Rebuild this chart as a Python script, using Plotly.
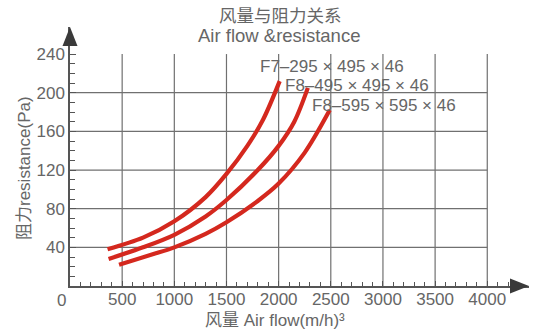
import plotly.graph_objects as go

# ---------------- data ----------------
series_names = ["F7–295 × 495 × 46", "F8–495 × 495 × 46", "F8–595 × 595 × 46"]

f7_x = [360, 700, 1000, 1300, 1500, 1700, 1850, 2010]
f7_y = [38, 50, 67, 92, 116, 145, 172, 212]

f8a_x = [370, 700, 1000, 1300, 1500, 1800, 2000, 2150, 2280]
f8a_y = [28, 40, 53, 72, 89, 120, 145, 170, 205]

f8b_x = [470, 800, 1000, 1300, 1500, 1800, 2000, 2250, 2490]
f8b_y = [22, 33, 40, 54, 66, 88, 106, 138, 182]

x_ticks = [500, 1000, 1500, 2000, 2500, 3000, 3500, 4000]
y_ticks = [40, 80, 120, 160, 200, 240]
x_minor = [v for v in range(100, 4201, 100) if v % 500 != 0]
y_minor = [v for v in range(10, 241, 10) if v % 40 != 0]

label_pos = [(1800, 227), (2045, 207), (2300, 187)]

# ---------------- layout geometry ----------------
W, H = 538, 334
L, R, T, B = 70, 9, 27, 48
PW, PH = W - L - R, H - T - B
X_MAX, Y_MAX = 4400, 268

def px(xp):
    return (xp - L) / PW

def py(yp):
    return (H - B - yp) / PH

RED = "#d4281e"
GRID = "#707070"
AXIS = "#555555"
TXT = "#666666"
FONT = "Liberation Sans, Arial, Noto Sans CJK SC, sans-serif"

fig = go.Figure()
for xs, ys, name in [(f7_x, f7_y, series_names[0]),
                     (f8a_x, f8a_y, series_names[1]),
                     (f8b_x, f8b_y, series_names[2])]:
    fig.add_trace(go.Scatter(x=xs, y=ys, mode="lines", name=name,
                             line=dict(color=RED, width=4.2, shape="spline", smoothing=0.9),
                             hoverinfo="skip"))

shapes = []
for xv in x_ticks:
    shapes.append(dict(type="line", xref="x", yref="y", x0=xv, x1=xv, y0=0, y1=240,
                       line=dict(color=GRID, width=1.2), layer="below"))
for yv in y_ticks[:-1]:
    shapes.append(dict(type="line", xref="x", yref="y", x0=0, x1=4000, y0=yv, y1=yv,
                       line=dict(color=GRID, width=1.2), layer="below"))

ah_len, ah_half = 19, 7.5
shapes.append(dict(type="path", xref="paper", yref="paper",
                   path=f"M 1 0 L {1 - ah_len / PW} {ah_half / PH} L {1 - ah_len / PW} {-ah_half / PH} Z",
                   fillcolor="#3a3a3a", line=dict(width=0)))
shapes.append(dict(type="path", xref="paper", yref="paper",
                   path=f"M 0 1 L {ah_half / PW} {1 - ah_len / PH} L {-ah_half / PW} {1 - ah_len / PH} Z",
                   fillcolor="#3a3a3a", line=dict(width=0)))

annotations = []
for (lx, ly), name in zip(label_pos, series_names):
    annotations.append(dict(x=lx, y=ly, xref="x", yref="y", text=name, showarrow=False,
                            xanchor="left", yanchor="middle",
                            font=dict(family=FONT, size=17, color=TXT)))
annotations += [
    dict(x=px(280), y=py(16), xref="paper", yref="paper", text="风量与阻力关系",
         showarrow=False, xanchor="center", yanchor="middle",
         font=dict(family=FONT, size=17.5, color=TXT)),
    dict(x=px(279), y=py(35), xref="paper", yref="paper", text="Air flow &resistance",
         showarrow=False, xanchor="center", yanchor="middle",
         font=dict(family=FONT, size=18.5, color=TXT)),
    dict(x=px(275), y=py(320), xref="paper", yref="paper", text="风量 Air flow(m/h)³",
         showarrow=False, xanchor="center", yanchor="middle",
         font=dict(family=FONT, size=17, color=TXT)),
    dict(x=px(24), y=py(168), xref="paper", yref="paper", text="阻力resistance(Pa)",
         showarrow=False, xanchor="center", yanchor="middle", textangle=-90,
         font=dict(family=FONT, size=17, color=TXT)),
    dict(x=px(61), y=py(300), xref="paper", yref="paper", text="0",
         showarrow=False, xanchor="center", yanchor="middle",
         font=dict(family=FONT, size=17, color=TXT)),
]

fig.update_layout(
    width=W, height=H,
    margin=dict(l=L, r=R, t=T, b=B, pad=0),
    paper_bgcolor="white", plot_bgcolor="white",
    showlegend=False,
    shapes=shapes, annotations=annotations,
    xaxis=dict(range=[0, X_MAX], showgrid=False, zeroline=False, automargin=False,
               showline=True, linecolor=AXIS, linewidth=1.5,
               tickmode="array", tickvals=x_ticks,
               ticks="inside", ticklen=5, tickcolor=AXIS, tickwidth=1.2,
               ticklabelstandoff=-3,
               minor=dict(tickmode="array", tickvals=x_minor, ticks="inside",
                          ticklen=4, tickcolor=AXIS, tickwidth=1.2, showgrid=False),
               tickfont=dict(family=FONT, size=17, color=TXT),
               fixedrange=True),
    yaxis=dict(range=[0, Y_MAX], showgrid=False, zeroline=False, automargin=False,
               showline=True, linecolor=AXIS, linewidth=1.5,
               tickmode="array", tickvals=y_ticks,
               ticks="inside", ticklen=6, tickcolor=AXIS, tickwidth=1.2,
               minor=dict(tickmode="array", tickvals=y_minor, ticks="inside",
                          ticklen=5, tickcolor=AXIS, tickwidth=1.2, showgrid=False),
               tickfont=dict(family=FONT, size=17, color=TXT),
               fixedrange=True),
)

fig.write_html("out.html", config={"displayModeBar": False},
               post_script="document.body.style.margin='0';document.body.style.overflow='hidden';")
